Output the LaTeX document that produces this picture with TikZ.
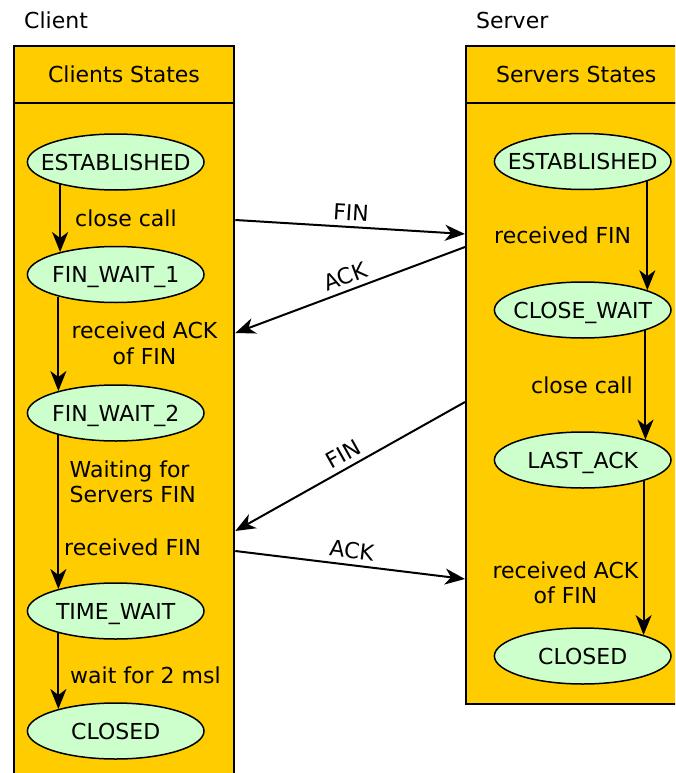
\documentclass[tikz,border=0pt]{standalone}
\usepackage{fontspec}
\setmainfont{DejaVu Sans}
\usepackage{xcolor}
\usetikzlibrary{shapes.geometric}
\usetikzlibrary{arrows.meta}
\definecolor{laneorange}{HTML}{FFCC00}
\definecolor{stategreen}{HTML}{CCFFCC}
\newcommand{\statetext}[1]{\makebox[0pt]{#1}}

\begin{document}
\begin{tikzpicture}[x = 1pt, y = -1pt, font = \fontsize{22}{25.5}\selectfont]
			\clip (0, 0) rectangle (675, 773);
			
			\begin{scope}[every node/.style={anchor = base west, inner sep = 0pt}]
			\node (client) at (24, 29) {Client};
			\node (server) at (476, 29) {Server};
			\end{scope}
			
			\begin{scope}[every node/.style={rectangle, draw, line width = 2pt, fill = laneorange, minimum width = 220.6pt, anchor = north west, inner sep = 0pt, text height = 16.7pt, text depth = 0pt}]
			\node (cbody) [minimum height = 720pt] at (12.7, 101.7) {};
			\node (chead) [minimum height = 56.7pt] at (12.7, 45) {Clients States};
			\node (sbody) [minimum height = 601pt] at (465, 101.7) {};
			\node (shead) [minimum height = 56.7pt] at (465, 45) {Servers States};
			\end{scope}
			
			\begin{scope}[every node/.style={ellipse, draw, line width = 1.5pt, fill = stategreen, minimum width = 176.6pt, minimum height = 56pt, inner sep = 0pt, text height = 16pt, text depth = 0pt}]
			\node (cest) at (115.7, 162) {\statetext{ESTABLISHED}};
			\node (cfw1) at (115.7, 274.5) {\statetext{FIN\_WAIT\_1}};
			\node (cfw2) at (115.7, 413) {\statetext{FIN\_WAIT\_2}};
			\node (ctw) at (115.7, 611) {\statetext{TIME\_WAIT}};
			\node (ccl) at (115.7, 731) {\statetext{CLOSED}};
			\node (sest) at (582.7, 161.5) {\statetext{ESTABLISHED}};
			\node (scw) at (582.7, 310) {\statetext{CLOSE\_WAIT}};
			\node (sla) at (582.7, 460) {\statetext{LAST\_ACK}};
			\node (scl) at (582.7, 656) {\statetext{CLOSED}};
			\end{scope}
			
			\begin{scope}[every node/.style={inner sep = 0pt}]
			\node (cclose) [anchor = base west] at (75, 226) {close call};
			\node (cackfin) [anchor = north, align = center] at (144.5, 322) {received ACK\\of FIN};
			\node (cwait) [anchor = north west, align = left] at (69.5, 460.3) {Waiting for\\Servers FIN};
			\node (crecfin) [anchor = base west] at (64, 555) {received FIN};
			\node (cmsl) [anchor = base west] at (70, 683) {wait for 2 msl};
			\node (srecfin) [anchor = base west] at (494, 243) {received FIN};
			\node (sclose) [anchor = base west] at (531, 393) {close call};
			\node (sackfin) [anchor = north, align = center] at (565.5, 561.3) {received ACK\\of FIN};
			\end{scope}
			
			\begin{scope}[>={Stealth[length = 20pt, width = 16pt, inset = 6pt]},
			every edge/.style = {draw = black, line width = 2pt}]
			\path [->] 	(cest.202) edge (cfw1.158)
			(cfw1.201) edge (cfw2.159)
			(cfw2.201) edge (ctw.159)
			(ctw.201) edge (ccl.159)
			(sest.-17) edge (scw.17)
			(scw.-18) edge (sla.18)
			(sla.-19) edge (scl.19);
			\end{scope}
			
			\begin{scope}[>={Stealth[length = 20pt, width = 16pt, inset = 6pt]},
			every edge/.style = {draw = black, line width = 2pt},
			every node/.style = {sloped, above, inner sep = 5.5pt, text height = 16pt, text depth = 0pt}]
			\path [->] 	(cbody.east |- 0, 220) edge node {FIN} (sbody.west |- 0, 234)
			(sbody.west |- 0, 247) edge node {ACK} (cbody.east |- 0, 333)
			(sbody.west |- 0, 402) edge node {FIN} (cbody.east |- 0, 531)
			(cbody.east |- 0, 551) edge node {ACK} (sbody.west |- 0, 579);
			\end{scope}
			
\end{tikzpicture}
\end{document}
